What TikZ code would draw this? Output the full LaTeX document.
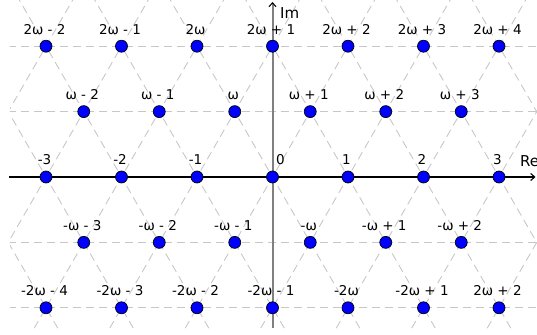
\documentclass[tikz,border=0pt]{standalone}
\usepackage{fontspec}
\setmainfont{DejaVu Sans}
\usetikzlibrary{arrows.meta}
\begin{document}
\begin{tikzpicture}[x=75.5pt,y=75.5pt,
  dot/.style={circle,draw=black,line width=0.7pt,fill=blue,inner sep=0pt,minimum size=12pt},
  lbl/.style={anchor=base,font=\fontsize{13.5}{15}\selectfont,inner sep=0pt},
  axlbl/.style={anchor=base west,font=\fontsize{15}{17}\selectfont,inner sep=0pt},
  gridline/.style={draw=black!22,line width=0.9pt,dash pattern=on 8pt off 5pt}]
\useasboundingbox (-272.5pt,-157pt) rectangle (264.5pt,177pt);
% lattice grid
\begin{scope}
\clip (-262.5pt,-151pt) rectangle (264.5pt,177pt);
\foreach \k in {-2,-1,1,2} \draw[gridline] (-3.5,\k*0.8660254) -- (4,\k*0.8660254);
\foreach \n in {-8,...,8} {
  \draw[gridline] (\n-1.5,-2.598) -- (\n+1.5,2.598);
  \draw[gridline] (\n+1.5,-2.598) -- (\n-1.5,2.598);
}
\end{scope}
% axes
\coordinate (reL) at (-263.5pt,0);
\coordinate (reR) at (263pt,0);
\coordinate (imB) at (0,-151pt);
\coordinate (imT) at (0,175pt);
\draw[black,line width=1.1pt,-{Straight Barb[length=4pt,width=7pt]}] (reL) -- (reR);
\draw[black!50,line width=2pt,-{Straight Barb[length=4pt,width=7pt,color=black,line width=1pt]}] (imB) -- (imT);
\node[axlbl] (re) at (247.5pt,10pt) {Re};
\node[axlbl] (im) at (7.5pt,158.5pt) {Im};
% lattice points
\foreach \x/\y/\t [count=\i] in {
  -3/1.7320508/2ω - 2, -2/1.7320508/2ω - 1, -1/1.7320508/2ω, 0/1.7320508/2ω + 1,
  1/1.7320508/2ω + 2, 2/1.7320508/2ω + 3, 3/1.7320508/2ω + 4,
  -2.5/0.8660254/ω - 2, -1.5/0.8660254/ω - 1, -0.5/0.8660254/ω, 0.5/0.8660254/ω + 1,
  1.5/0.8660254/ω + 2, 2.5/0.8660254/ω + 3,
  -3/0/-3, -2/0/-2, -1/0/-1, 1/0/1, 2/0/2, 3/0/3,
  -2.5/-0.8660254/-ω - 3, -1.5/-0.8660254/-ω - 2, -0.5/-0.8660254/-ω - 1,
  0.5/-0.8660254/-ω, 1.5/-0.8660254/-ω + 1, 2.5/-0.8660254/-ω + 2,
  -3/-1.7320508/-2ω - 4, -2/-1.7320508/-2ω - 3, -1/-1.7320508/-2ω - 2,
  0/-1.7320508/-2ω - 1, 1/-1.7320508/-2ω, 2/-1.7320508/-2ω + 1, 3/-1.7320508/2ω + 2} {
  \node[dot] (p\i) at (\x,\y) {};
  \node[lbl] (l\i) at ([xshift=-1.5pt,yshift=12pt]p\i.center) {\t};
}
\node[dot] (p0) at (0,0) {};
\node[lbl] (l0) at ([xshift=8pt,yshift=12pt]p0.center) {0};
\end{tikzpicture}
\end{document}
